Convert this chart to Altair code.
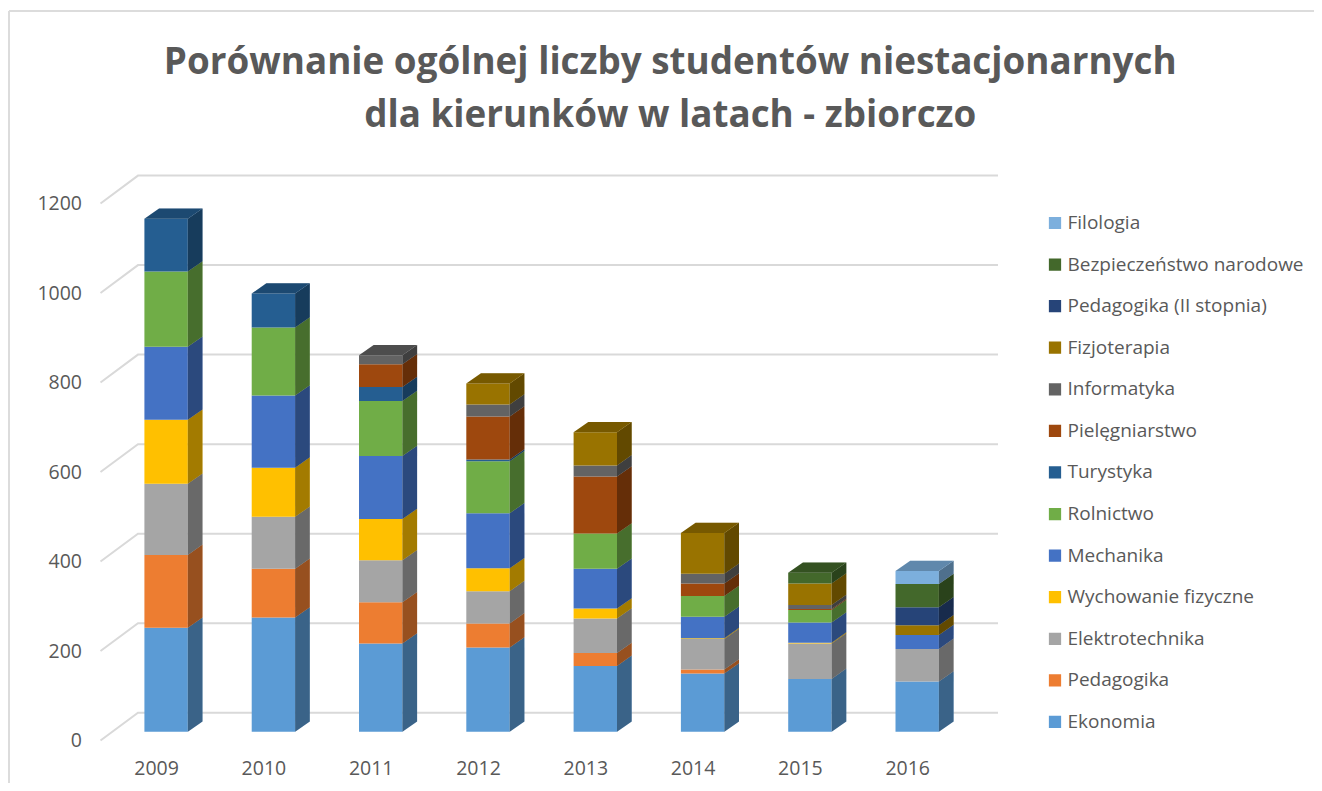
import altair as alt
import pandas as pd

years = [2009, 2010, 2011, 2012, 2013, 2014, 2015, 2016]
series_names = ["Ekonomia", "Pedagogika", "Elektrotechnika", "Wychowanie fizyczne", "Mechanika", "Rolnictwo",
                "Turystyka", "Pielęgniarstwo", "Informatyka", "Fizjoterapia", "Pedagogika (II stopnia)",
                "Bezpieczeństwo narodowe", "Filologia"]
colors = ["#5b9bd5", "#ed7d31", "#a5a5a5", "#ffc000", "#4472c4", "#70ad47",
          "#255e91", "#9e480e", "#636363", "#997300", "#264478", "#43682b", "#7cafdd"]
ekonomia = [232, 255, 197, 188, 147, 130, 118, 112]
pedagogika = [163, 109, 92, 54, 29, 9, 0, 0]
elektrotechnika = [159, 116, 94, 72, 77, 68, 79, 73]
wychowanie = [143, 110, 92, 51, 22, 2, 2, 0]
mechanika = [163, 161, 141, 123, 89, 48, 45, 31]
rolnictwo = [168, 152, 123, 116, 79, 46, 28, 0]
turystyka = [118, 76, 31, 4, 0, 0, 0, 0]
pielegniarstwo = [0, 0, 51, 96, 127, 28, 2, 0]
informatyka = [0, 0, 20, 27, 25, 22, 9, 0]
fizjoterapia = [0, 0, 0, 47, 74, 91, 48, 22]
pedagogika2 = [0, 0, 0, 0, 0, 0, 0, 40]
bezpieczenstwo = [0, 0, 0, 0, 0, 0, 24, 52]
filologia = [0, 0, 0, 0, 0, 0, 0, 29]
all_series = [ekonomia, pedagogika, elektrotechnika, wychowanie, mechanika, rolnictwo, turystyka,
              pielegniarstwo, informatyka, fizjoterapia, pedagogika2, bezpieczenstwo, filologia]
grid_values = [0, 200, 400, 600, 800, 1000, 1200]

title_lines = ["Porównanie ogólnej liczby studentów niestacjonarnych", "dla kierunków w latach - zbiorczo"]

HALF = 0.2022      # half bar width in years
DX = 0.137         # side depth in years
DY = 23            # side depth in value units
X_DOMAIN = [2008.3886, 2016.753]
Y_DOMAIN = [-29.72, 1255]
TEXT = "#595959"
GRID = "#d9d9d9"
FONT = "Open Sans"

front, side, top = [], [], []
for i, yr in enumerate(years):
    base = 0
    last = None
    for name, vals in zip(series_names, all_series):
        v = vals[i]
        if v <= 0:
            continue
        v0, v1 = base, base + v
        base = v1
        last = name
        L, R = yr - HALF, yr + HALF
        front.append(dict(series=name, x0=L, x1=R, y0=v0, y1=v1))
        key = f"{yr}-{name}"
        side.append(dict(id=key, series=name, px=R, hi=v1, lo=v0))
        side.append(dict(id=key, series=name, px=R + DX, hi=v1 + DY, lo=v0 + DY))
    L, R = yr - HALF, yr + HALF
    key = f"top-{yr}"
    top.append(dict(id=key, series=last, px=L, hi=base, lo=base))
    top.append(dict(id=key, series=last, px=L + DX, hi=base + DY, lo=base))
    top.append(dict(id=key, series=last, px=R, hi=base + DY, lo=base))
    top.append(dict(id=key, series=last, px=R + DX, hi=base + DY, lo=base + DY))

grid = []
for g in grid_values:
    grid.append(dict(g=g, x=X_DOMAIN[0], y=g - 19.7, o=0))
    grid.append(dict(g=g, x=X_DOMAIN[0] + 0.3495, y=g + 42.5, o=1))
    grid.append(dict(g=g, x=X_DOMAIN[1], y=g + 42.5, o=2))

df_front, df_side, df_top, df_grid = map(pd.DataFrame, (front, side, top, grid))

x_scale = alt.Scale(domain=X_DOMAIN, nice=False, zero=False)
y_scale = alt.Scale(domain=Y_DOMAIN, nice=False, zero=False)
legend_order = series_names[::-1]
color_scale = alt.Scale(domain=legend_order, range=colors[::-1])

x_enc = alt.X("x:Q", scale=x_scale, title=None,
              axis=alt.Axis(values=years, format="d", domain=False, ticks=False, grid=False,
                            labelFont=FONT, labelFontSize=19.5, labelColor=TEXT, labelPadding=14,
                            labelOffset=-10, labelFlush=False))
y_enc = alt.Y("y:Q", scale=y_scale, title=None,
              axis=alt.Axis(values=grid_values, format="d", domain=False, ticks=False, grid=False,
                            labelFont=FONT, labelFontSize=19.5, labelColor=TEXT, labelPadding=19,
                            labelOffset=9, labelFlush=False))

frame_left = alt.Chart(pd.DataFrame({"a": [0]})).mark_rule(color="#dcdcdc", strokeWidth=2).encode(
    x=alt.value(-91.5), y=alt.value(-159), y2=alt.value(650))
frame_top = alt.Chart(pd.DataFrame({"a": [0]})).mark_rule(color="#dcdcdc", strokeWidth=2).encode(
    x=alt.value(-91.5), x2=alt.value(1240), y=alt.value(-159))

grid_layer = alt.Chart(df_grid).mark_line(color=GRID, strokeWidth=2).encode(
    x=x_enc, y=y_enc, detail="g:N", order="o:Q")

color_legend = alt.Legend(orient="none", legendX=945, legendY=43, symbolType="square",
                          symbolSize=150, symbolStrokeWidth=0, symbolOpacity=1,
                          labelFont=FONT, labelFontSize=19, labelColor=TEXT, labelOffset=3,
                          clipHeight=20, rowPadding=21.58, labelLimit=400, padding=0)
color_enc = alt.Color("series:N", scale=color_scale, sort=legend_order, title=None, legend=color_legend)

front_layer = alt.Chart(df_front).mark_rect().encode(
    x=alt.X("x0:Q", scale=x_scale), x2="x1:Q",
    y=alt.Y("y0:Q", scale=y_scale), y2="y1:Q",
    color=color_enc)


def faces(df, shade):
    enc = dict(x=alt.X("px:Q", scale=x_scale),
               y=alt.Y("hi:Q", scale=y_scale, stack=None),
               y2=alt.Y2("lo:Q"),
               detail=alt.Detail("id:N"))
    base_layer = alt.Chart(df).mark_area(orient="vertical").encode(color=color_enc, **enc)
    dark = alt.Chart(df).mark_area(orient="vertical", color="black", opacity=shade).encode(**enc)
    return [base_layer, dark]


layers = [frame_left, frame_top, grid_layer, front_layer] + faces(df_side, 0.36) + faces(df_top, 0.22)

chart = alt.layer(*layers).properties(
    width=897.5, height=575,
    padding={"left": 92.5, "top": 162, "right": 316, "bottom": 38},
    autosize=alt.AutoSizeParams(type="none"),
    background="white",
    title=alt.TitleParams(text=title_lines, font=FONT, fontSize=36.8, fontWeight="bold", color=TEXT,
                          anchor="middle", dx=121, lineHeight=53, offset=-124.5),
).configure_view(stroke=None)

chart.save("out.html", embed_options={"renderer": "svg", "actions": False})
